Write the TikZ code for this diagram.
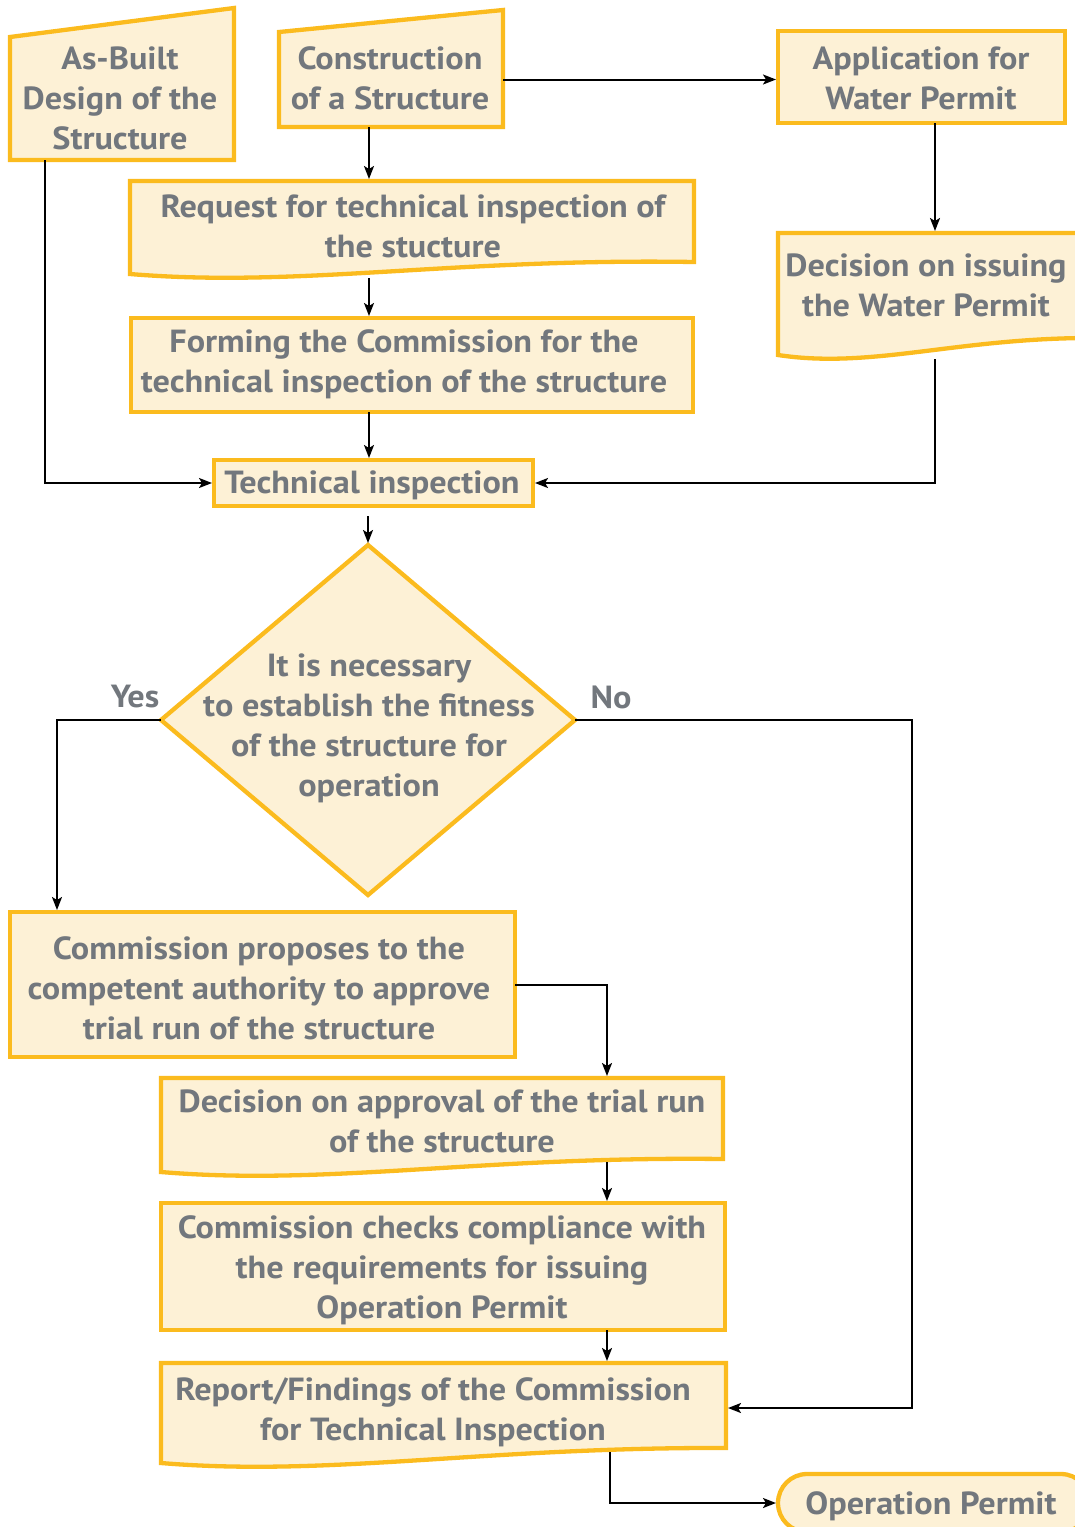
\documentclass[tikz,border=0pt]{standalone}
\usepackage{fontspec}
\setmainfont{PT Sans}[FakeStretch=1.07]
\usetikzlibrary{arrows.meta,calc,shapes.geometric}
\definecolor{boxfill}{RGB}{253,241,214}
\definecolor{boxline}{RGB}{251,187,30}
\definecolor{txtgray}{RGB}{114,119,125}
\tikzset{
 shp/.style={draw=boxline, fill=boxfill, line width=4.3pt},
 geo/.style={draw=none, inner sep=0pt, outer sep=0pt, rectangle},
 rbox/.style={shp, inner sep=0pt, outer sep=0pt, rectangle},
 lbl/.style={text=txtgray, font=\bfseries\fontsize{32}{40}\selectfont, align=center, inner sep=0pt},
 conn/.style={line width=2pt, shorten >=2pt, -{Stealth[length=13pt,width=10pt,inset=3pt]}},
}
\newcommand\docshape[2]{\path[shp] (#1.north west) -- (#1.north east) -- ($(#1.south east)+(0,-#2)$) .. controls ($(#1.south west)!0.57!(#1.south east)+(0,-16)$) and ($(#1.south west)!0.3!(#1.south east)+(0,14)$) .. (#1.south west) -- cycle;}
\newcommand\manshape[2]{\path[shp] (#1.south west) -- (#1.south east) -- ($(#1.north east)+(0,-#2)$) -- (#1.north west) -- cycle;}
\begin{document}
\begin{tikzpicture}[x=1pt,y=-1pt]
\useasboundingbox (0,0) rectangle (1075,1527);
\clip (0,0) rectangle (1075,1527);
% shapes
\node[geo, minimum width=224, minimum height=123] (asb) at (122,98.5) {};
\manshape{asb}{29}
\node[geo, minimum width=224, minimum height=95] (cons) at (391,79.5) {};
\manshape{cons}{22}
\node[rbox, minimum width=287, minimum height=92] (app) at (921.5,77) {};
\node[geo, minimum width=564, minimum height=93] (req) at (412,227.5) {};
\docshape{req}{12}
\node[rbox, minimum width=562, minimum height=94] (form) at (412,365) {};
\node[rbox, minimum width=319, minimum height=46] (ti) at (373.5,483) {};
\node[geo, minimum width=307, minimum height=122] (dwp) at (931.5,294) {};
\docshape{dwp}{17}
\node[diamond, shp, inner sep=0pt, outer sep=0pt, minimum width=414, minimum height=350] (dia) at (368,720) {};
\node[rbox, minimum width=505, minimum height=145] (cp) at (262.5,984.5) {};
\node[geo, minimum width=562, minimum height=94] (dap) at (442,1125) {};
\docshape{dap}{13}
\node[rbox, minimum width=564, minimum height=127] (chk) at (443,1266.5) {};
\node[geo, minimum width=565, minimum height=100] (rep) at (443.5,1413) {};
\docshape{rep}{15}
\node[rbox, rounded corners=29pt, minimum width=312, minimum height=58] (op) at (934,1503) {};
% texts
\node[lbl] (asbt) at (120,98) {As-Built\\Design of the\\Structure};
\node[lbl] (const) at (390,78) {Construction\\of a Structure};
\node[lbl] (appt) at (921,78) {Application for\\Water Permit};
\node[lbl] (reqt) at (413,226) {Request for technical inspection of\\the stucture};
\node[lbl] (formt) at (404,364) {Forming the Commission for the\\technical inspection of the structure};
\node[lbl] (tit) at (372,485) {Technical inspection};
\node[lbl] (dwpt) at (926,285) {Decision on issuing\\the Water Permit};
\node[lbl] (diat) at (369,728.5) {It is necessary\\to establish the fitness\\of the structure for\\operation};
\node[lbl] (cpt) at (259,988) {Commission proposes to the\\competent authority to approve\\trial run of the structure};
\node[lbl] (dapt) at (442,1121) {Decision on approval of the trial run\\of the structure};
\node[lbl] (chkt) at (442,1270.5) {Commission checks compliance with\\the requirements for issuing\\Operation Permit};
\node[lbl] (rept) at (433,1412) {Report/Findings of the Commission\\for Technical Inspection};
\node[lbl] (opt) at (931,1506) {Operation Permit};
\node[lbl] (yes) at (135,697) {Yes};
\node[lbl] (no) at (611,697) {No};
% connectors
\coordinate (colA) at (369,0);
\coordinate (colB) at (935,0);
\coordinate (colL) at (45,0);
\coordinate (colY) at (57,0);
\coordinate (colC) at (607,0);
\coordinate (colD) at (610,0);
\coordinate (noturn) at (912,1408);
\draw[conn] (cons.south -| colA) -- (req.north -| colA);
\draw[conn] (cons.east) -- (cons.east -| app.west);
\draw[conn] (app.south -| colB) -- (dwp.north -| colB);
\draw[conn] ($(req.south -| colA)+(0,4)$) -- (form.north -| colA);
\draw[conn] (form.south -| colA) -- (ti.north -| colA);
\draw[conn] (asb.south -| colL) |- (ti.west);
\draw[conn] ($(dwp.south -| colB)+(0,4)$) |- (ti.east);
\draw[conn] ($(ti.south -| dia.north)+(0,10)$) -- (dia.north);
\draw[conn] (dia.west) -| (cp.north -| colY);
\draw[conn] (dia.east) -| (noturn) -- (noturn -| rep.east);
\draw[conn] (cp.east) -| (dap.north -| colC);
\draw[conn] ($(dap.south -| colC)+(0,-10)$) -- (chk.north -| colC);
\draw[conn] (chk.south -| colC) -- (rep.north -| colC);
\draw[conn] ($(rep.south -| colD)+(0,-11)$) |- (op.west);
\end{tikzpicture}
\end{document}
